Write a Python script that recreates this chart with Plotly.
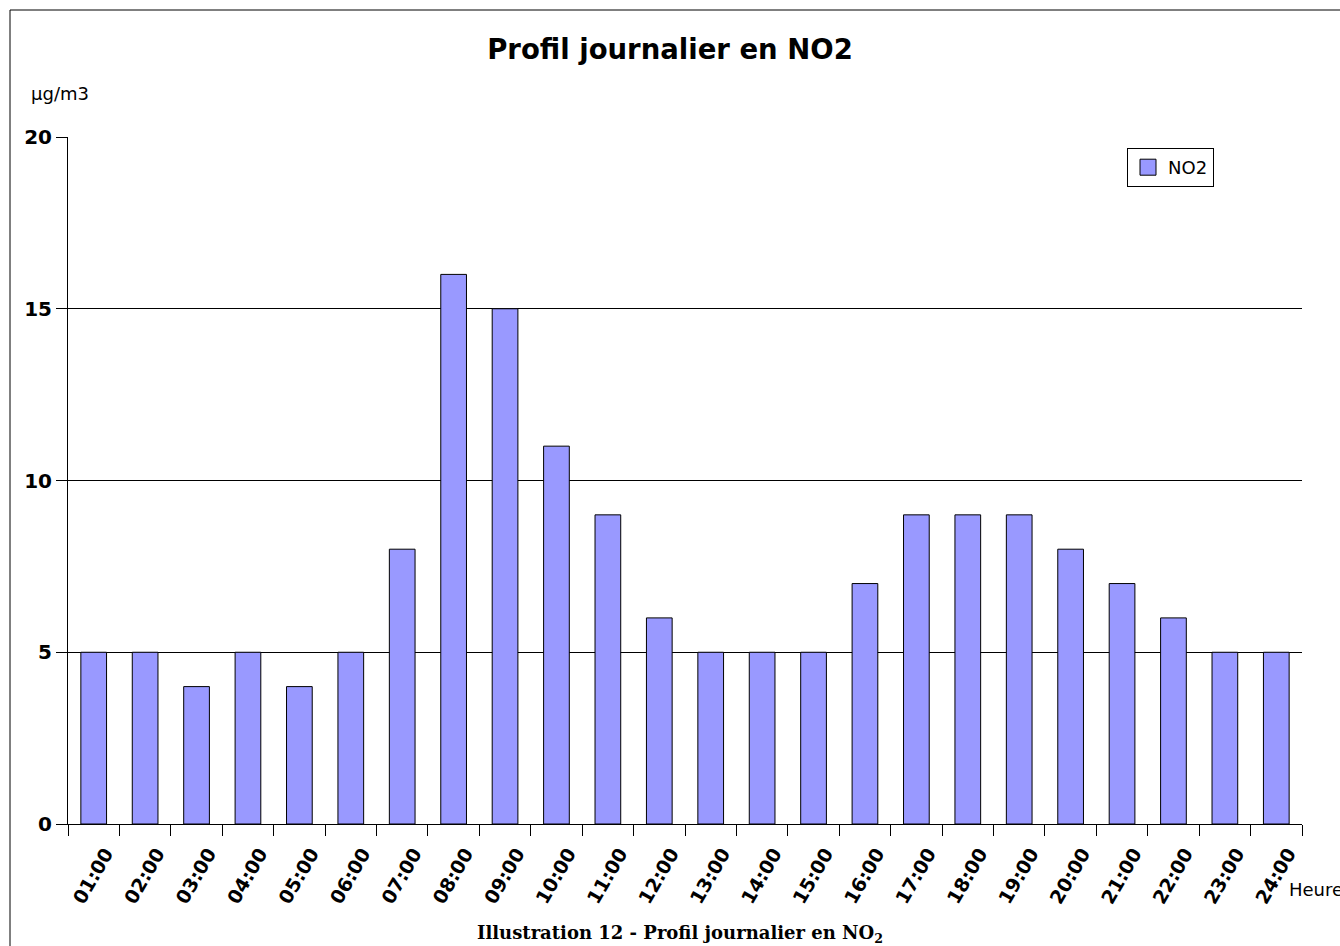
import plotly.graph_objects as go

hours = ["01:00", "02:00", "03:00", "04:00", "05:00", "06:00", "07:00", "08:00",
         "09:00", "10:00", "11:00", "12:00", "13:00", "14:00", "15:00", "16:00",
         "17:00", "18:00", "19:00", "20:00", "21:00", "22:00", "23:00", "24:00"]
no2 = [5, 5, 4, 5, 4, 5, 8, 16, 15, 11, 9, 6, 5, 5, 5, 7, 9, 9, 9, 8, 7, 6, 5, 5]

W, H = 1340, 946
L, R, T, B = 68, 38, 137, 122
pw, ph = W - L - R, H - T - B

def px(x):
    return (x - L) / pw

def py(y):
    return (H - B - y) / ph

fig = go.Figure()
fig.add_trace(go.Bar(
    x=hours, y=no2, name="NO2",
    marker=dict(color="#9999ff", line=dict(color="black", width=1)),
    showlegend=False, legendgroup="no2",
))
# legend entry with a larger square swatch
fig.add_trace(go.Scatter(
    x=[None], y=[None], mode="markers", name="NO2", legendgroup="no2",
    marker=dict(symbol="square", size=18, color="#9999ff", line=dict(color="black", width=1)),
    showlegend=True,
))

fig.update_layout(
    width=W, height=H,
    margin=dict(l=L, r=R, t=T, b=B, pad=0),
    paper_bgcolor="white", plot_bgcolor="white",
    font=dict(family="DejaVu Sans", color="black", size=18),
    bargap=0.5,
    title=dict(text="<b>Profil journalier en NO2</b>", x=0.5, xanchor="center",
               y=1 - 49 / H, yanchor="middle",
               font=dict(family="DejaVu Sans", size=27.5, color="black")),
    showlegend=True,
    legend=dict(x=px(1127), y=py(148), xanchor="left", yanchor="top",
                bordercolor="black", borderwidth=1, bgcolor="white",
                font=dict(family="DejaVu Sans", size=18, color="black"),
                itemsizing="trace", itemwidth=30),
    xaxis=dict(
        type="category", showline=True, linecolor="black", linewidth=1,
        ticks="outside", ticklen=11, tickcolor="black", tickson="boundaries",
        tickangle=-60, showgrid=False,
        ticklabelshift=12, ticklabelstandoff=10,
        tickfont=dict(family="DejaVu Sans", size=19, color="black", weight="bold"),
    ),
    yaxis=dict(
        range=[0, 20], dtick=5, showline=True, linecolor="black", linewidth=1,
        ticks="outside", ticklen=11, tickcolor="black",
        showgrid=True, gridcolor="black", gridwidth=1, zeroline=False,
        tickfont=dict(family="DejaVu Sans", size=20, color="black", weight="bold"),
    ),
)

fig.add_shape(type="rect", xref="paper", yref="paper",
              x0=px(10), y0=py(10), x1=px(W + 20), y1=py(H + 20),
              line=dict(color="black", width=1), fillcolor="rgba(0,0,0,0)", layer="above")

fig.add_annotation(text="µg/m3", xref="paper", yref="paper", x=px(29), y=py(93),
                   xanchor="left", yanchor="middle", showarrow=False,
                   font=dict(family="DejaVu Sans", size=18, color="black"))
fig.add_annotation(text="Heure", xref="paper", yref="paper", x=px(1287), y=py(889),
                   xanchor="left", yanchor="middle", showarrow=False,
                   font=dict(family="DejaVu Sans", size=18, color="black"))
fig.add_annotation(text="<b>Illustration 12 - Profil journalier en NO<sub>2</sub></b>",
                   xref="paper", yref="paper", x=px(680), y=py(934),
                   xanchor="center", yanchor="middle", showarrow=False,
                   font=dict(family="DejaVu Serif", size=18, color="black"))

fig.write_html("out.html", config={"displayModeBar": False},
               post_script="document.body.style.margin='0';document.body.style.padding='0';")
